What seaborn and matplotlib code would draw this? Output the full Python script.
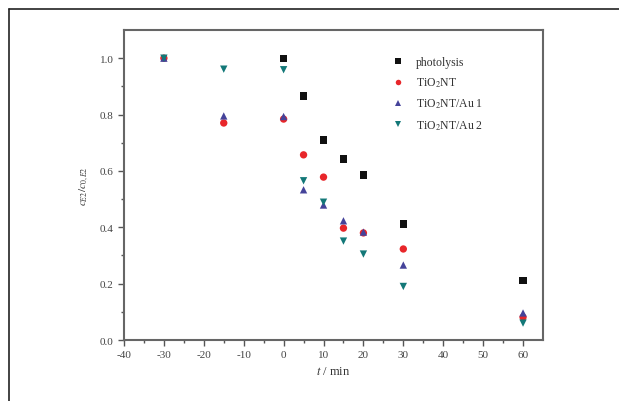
import numpy as np
import pandas as pd
import matplotlib
matplotlib.use('Agg')
import matplotlib.pyplot as plt
from matplotlib.lines import Line2D
import seaborn as sns

# data
t_photo = [0, 5, 10, 15, 20, 30, 60]
c_photo = [1.0, 0.866, 0.71, 0.642, 0.585, 0.412, 0.212]

t_cat = [-30, -15, 0, 5, 10, 15, 20, 30, 60]
c_tio2 = [1.0, 0.77, 0.784, 0.657, 0.578, 0.397, 0.38, 0.323, 0.081]
c_au1 = [1.0, 0.795, 0.793, 0.533, 0.479, 0.423, 0.383, 0.266, 0.096]
c_au2 = [1.0, 0.961, 0.959, 0.565, 0.489, 0.351, 0.305, 0.19, 0.06]

names = ['photolysis', 'TiO$_2$NT', 'TiO$_2$NT/Au 1', 'TiO$_2$NT/Au 2']
colors = ['#111111', '#e8262a', '#45439a', '#137878']
marks = ['s', 'o', '^', 'v']

df = pd.concat([
    pd.DataFrame({'t': t_photo, 'c': c_photo, 'sample': names[0]}),
    pd.DataFrame({'t': t_cat, 'c': c_tio2, 'sample': names[1]}),
    pd.DataFrame({'t': t_cat, 'c': c_au1, 'sample': names[2]}),
    pd.DataFrame({'t': t_cat, 'c': c_au2, 'sample': names[3]}),
])

sns.set_style('ticks')
plt.rcParams['font.family'] = ['Liberation Serif', 'DejaVu Serif']
plt.rcParams['mathtext.fontset'] = 'stix'
plt.rcParams['axes.unicode_minus'] = False

fig = plt.figure(figsize=(6.19, 4.02), dpi=100)
ax = fig.add_axes([0.2003, 0.1517, 0.6769, 0.7712])

sns.scatterplot(data=df, x='t', y='c', hue='sample', style='sample',
                hue_order=names, style_order=names,
                palette=colors, markers=marks, s=28, linewidth=0, ax=ax)

ax.set_xlim(-40, 65)
ax.set_ylim(0, 1.1)
ax.set_xticks(np.arange(-40, 61, 10))
ax.set_xticks(np.arange(-35, 65, 10), minor=True)
ax.set_yticks(np.arange(0, 1.01, 0.2))
ax.set_yticks(np.arange(0.1, 1.1, 0.2), minor=True)
ax.set_yticklabels(['%.1f' % v for v in np.arange(0, 1.01, 0.2)])
ax.tick_params(which='both', direction='out', color='#555555', labelcolor='#444444',
               labelsize=8, width=1)
ax.tick_params(which='major', length=4)
ax.tick_params(which='minor', length=2.5)
for sp in ax.spines.values():
    sp.set_visible(True)
    sp.set_color('#666666')
    sp.set_linewidth(1.5)

ax.set_xlabel('$t$ / min', fontsize=9, color='#333333', labelpad=4)
ax.set_ylabel('$c_{E2}/c_{0,E2}$', fontsize=8, color='#333333', labelpad=6)

leg = ax.legend(loc='upper left', bbox_to_anchor=(0.6, 0.95), frameon=False,
                fontsize=8.5, handletextpad=0.5, labelspacing=0.65, markerscale=0.75)
for txt in leg.get_texts():
    txt.set_color('#333333')

# outer frame lines (top and left only)
fig.add_artist(Line2D([9 / 619, 1], [1 - 10 / 402] * 2, transform=fig.transFigure,
                      color='#222222', lw=1.2))
fig.add_artist(Line2D([9 / 619] * 2, [0, 1 - 10 / 402], transform=fig.transFigure,
                      color='#222222', lw=1.2))

fig.savefig('out.png', dpi=100)
